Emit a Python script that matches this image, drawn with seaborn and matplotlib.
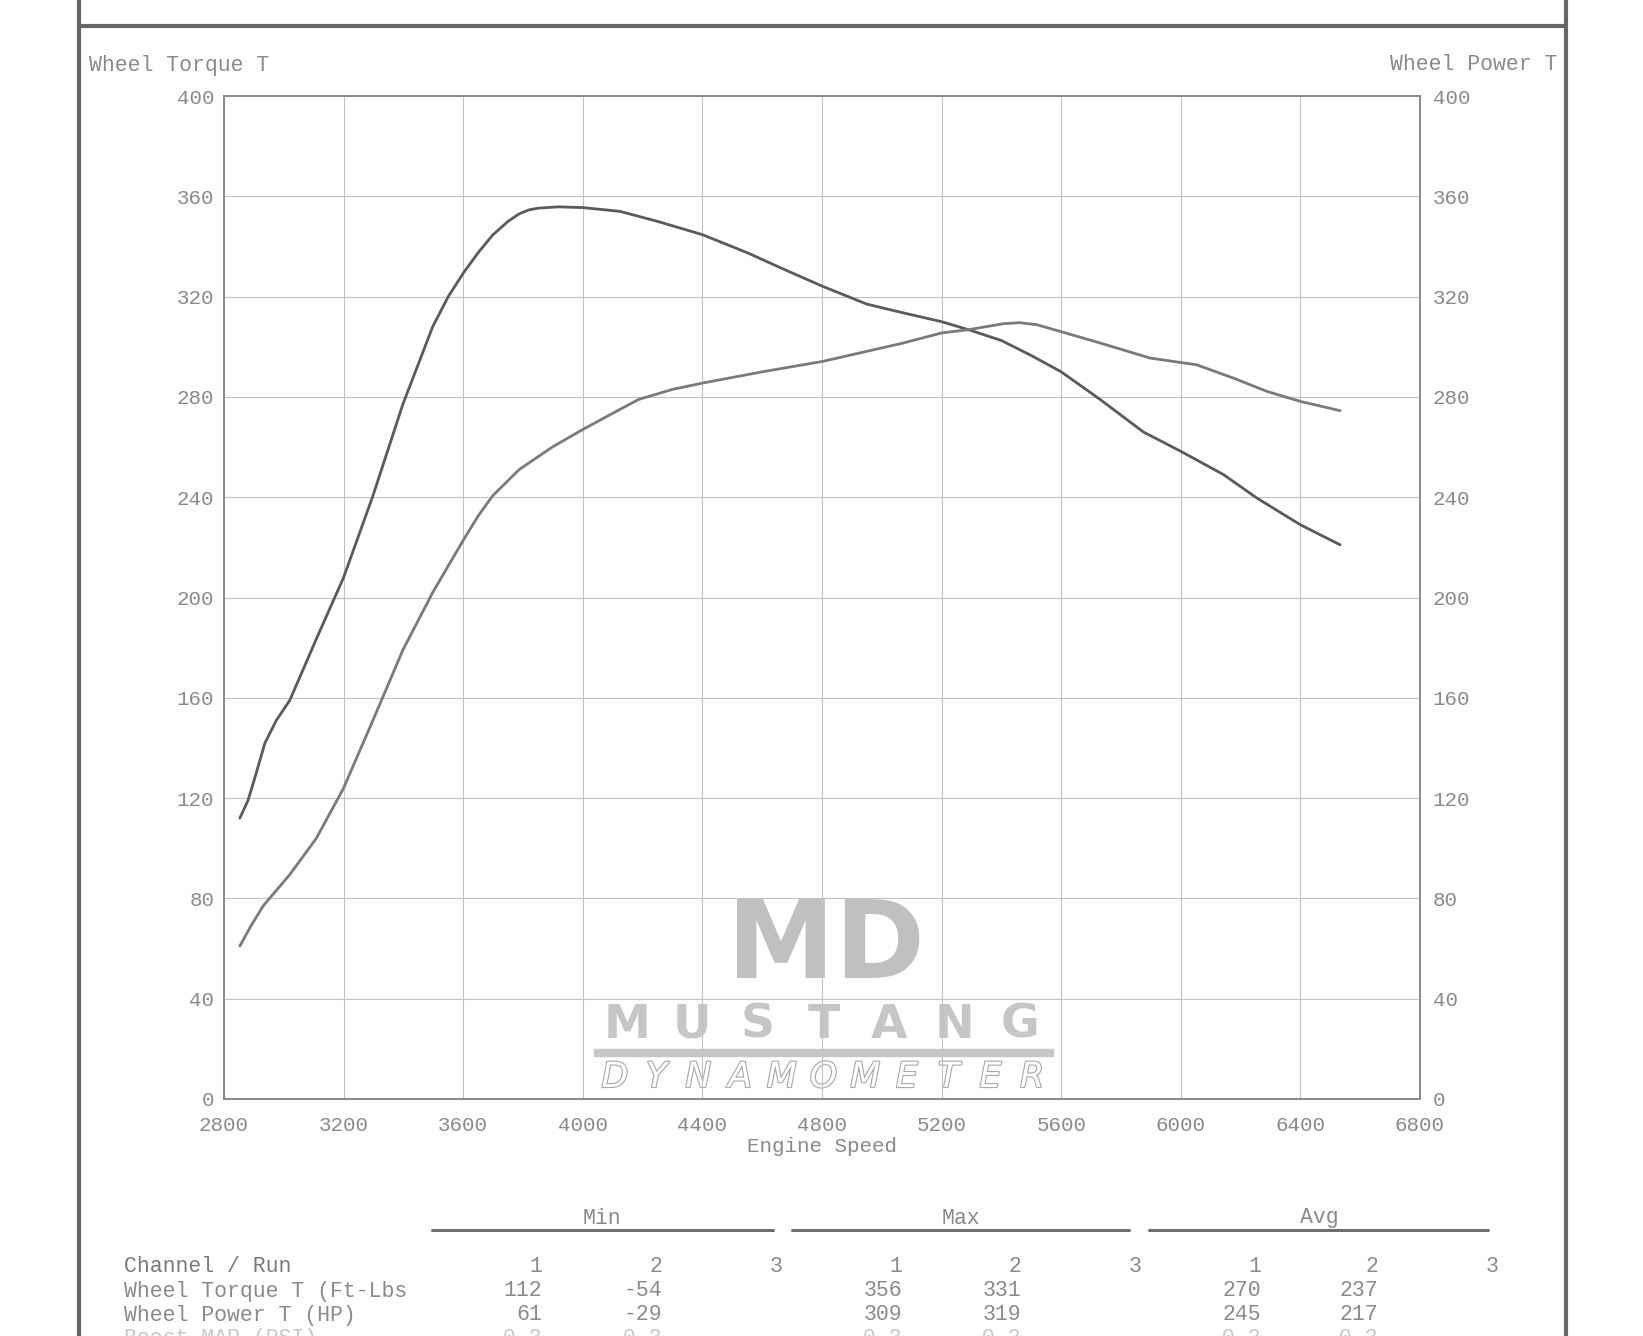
import numpy as np
import pandas as pd
import matplotlib
matplotlib.use("Agg")
import matplotlib.pyplot as plt
import matplotlib.patheffects as pe
from matplotlib.lines import Line2D
from matplotlib.patches import Rectangle
import seaborn as sns

# Dyno run data
torque_rpm = [2853, 2880, 2898, 2937, 2975, 3020, 3109, 3200, 3298, 3398, 3498, 3550,
              3601, 3650, 3698, 3750, 3787, 3820, 3853, 3920, 4000, 4124, 4250, 4400,
              4550, 4680, 4804, 4950, 5072, 5200, 5290, 5400, 5500, 5600, 5730, 5875,
              6000, 6143, 6254, 6400, 6533]
torque_val = [112, 119, 126, 142, 151, 159, 183.5, 208, 240.5, 277, 308, 320,
              329.5, 337.5, 344.5, 350, 353, 354.6, 355.3, 355.8, 355.5, 354, 350, 344.7,
              337.5, 330.5, 324, 317, 313.5, 310, 306.8, 302.5, 296.5, 290, 279, 266,
              258.3, 249, 239.7, 229, 221]

power_rpm = [2853, 2890, 2931, 3020, 3109, 3200, 3298, 3398, 3498, 3601, 3650, 3698,
             3787, 3898, 4000, 4124, 4187, 4300, 4400, 4600, 4804, 5072, 5200, 5290,
             5407, 5460, 5518, 5600, 5730, 5897, 6053, 6176, 6288, 6400, 6533]
power_val = [61, 69, 77, 89.5, 104, 124, 151, 179, 202, 223, 232.5, 240.5,
             251, 260, 267, 275, 279, 283, 285.5, 290, 294.2, 301.5, 305.5, 306.8,
             309.2, 309.6, 308.8, 306, 301.5, 295.5, 292.8, 287.5, 282.2, 278.2, 274.5]

x_ticks = list(range(2800, 6801, 400))
y_ticks = list(range(0, 401, 40))

# Summary table
table_cols = ["Min", "Max", "Avg"]
run_labels = ["1", "2", "3"]
row_labels = ["Wheel Torque T (Ft-Lbs", "Wheel Power T (HP)", "Boost MAP (PSI)"]
row_values = [
    ["112", "-54", "", "356", "331", "", "270", "237", ""],
    ["61", "-29", "", "309", "319", "", "245", "217", ""],
    ["-0.3", "-0.3", "", "-0.3", "-0.3", "", "-0.3", "-0.3", ""],
]

W, H = 1643, 1336
def fx(x):
    return x / W
def fy(y):
    return 1 - y / H

sns.set_style("white")
plt.rcParams["font.family"] = ["Liberation Mono", "DejaVu Sans Mono"]

txt = "#8a8a8a"
fig = plt.figure(figsize=(W / 100, H / 100), dpi=100)
fig.patch.set_facecolor("white")

ax = fig.add_axes([fx(224), fy(1099), fx(1420) - fx(224), fy(96) - fy(1099)])
ax2 = ax.twinx()

df_t = pd.DataFrame({"rpm": torque_rpm, "value": torque_val})
df_p = pd.DataFrame({"rpm": power_rpm, "value": power_val})
sns.lineplot(data=df_t, x="rpm", y="value", ax=ax, color="#5a5a5a", lw=2.0,
             sort=False, estimator=None, zorder=5, solid_joinstyle="round")
sns.lineplot(data=df_p, x="rpm", y="value", ax=ax2, color="#7a7a7a", lw=2.0,
             sort=False, estimator=None, zorder=5, solid_joinstyle="round")

for a in (ax, ax2):
    a.set_xlim(2800, 6800)
    a.set_ylim(0, 400)
    a.set_yticks(y_ticks)
    a.set_xlabel("")
    a.set_ylabel("")
    a.tick_params(length=0, labelsize=15, labelcolor=txt)
    for s in a.spines.values():
        s.set_color("#8c8c8c")
        s.set_linewidth(1.4)

ax.set_xticks(x_ticks)
ax.tick_params(axis="y", pad=7)
ax.tick_params(axis="x", pad=12)
ax2.tick_params(axis="y", pad=9)
ax.set_axisbelow(True)
ax.grid(True, color="#c2c2c2", lw=0.8)
ax.set_xlabel("Engine Speed", fontsize=15, color=txt, labelpad=2)

fig.text(fx(89), fy(65), "Wheel Torque T", fontsize=15.5, color=txt, va="center", ha="left")
fig.text(fx(1557), fy(65), "Wheel Power T", fontsize=15.5, color=txt, va="center", ha="right")

# watermark logo behind the grid
logo = "#c6c6c6"
ax.text(fx(826), fy(1001), "MD", transform=fig.transFigure, fontsize=78, fontweight="bold",
        family="DejaVu Sans", color="#c0c0c0", ha="center", va="bottom", zorder=0.1)
for i, ch in enumerate("MUSTANG"):
    ax.text(fx(594 + (i + 0.5) * 459 / 7), fy(1003), ch, transform=fig.transFigure,
            fontsize=34, fontweight="bold", family="DejaVu Sans", color=logo,
            ha="center", va="top", zorder=0.1)
ax.add_artist(Rectangle((fx(594), fy(1056)), fx(1053) - fx(594), fy(1049) - fy(1056),
                        transform=fig.transFigure, color=logo, zorder=0.1))
for i, ch in enumerate("DYNAMOMETER"):
    ax.text(fx(594 + (i + 0.5) * 459 / 11), fy(1077), ch, transform=fig.transFigure,
            fontsize=25, family="DejaVu Sans", style="italic", color="white",
            ha="center", va="center", zorder=0.1,
            path_effects=[pe.withStroke(linewidth=1.6, foreground="#a8a8a8")])

# page frame
frame = "#666666"
fig.add_artist(Line2D([fx(79), fx(79)], [0, 1], color=frame, lw=3))
fig.add_artist(Line2D([fx(1566), fx(1566)], [0, 1], color=frame, lw=3))
fig.add_artist(Line2D([fx(79), fx(1566)], [fy(26), fy(26)], color=frame, lw=3))

# summary table
group_mid = [602, 961, 1319]
group_span = [(432, 773), (792, 1129), (1149, 1488)]
col_right = [542, 662, 782, 902, 1021, 1141, 1261, 1378, 1498]
for name, mid, (x0, x1) in zip(table_cols, group_mid, group_span):
    fig.text(fx(mid), fy(1218), name, fontsize=15.5, color=txt, ha="center", va="center")
    fig.add_artist(Line2D([fx(x0), fx(x1)], [fy(1230), fy(1230)], color="#6e6e6e", lw=2.2))

fig.text(fx(124), fy(1267), "Channel / Run", fontsize=15.5, color="#7a7a7a", va="center")
for j, xr in enumerate(col_right):
    fig.text(fx(xr), fy(1267), run_labels[j % 3], fontsize=15.5, color=txt, ha="right", va="center")

# last row is cut by the page edge, as on the scanned sheet
row_y = [1291, 1315, 1328]
for label, vals, y in zip(row_labels, row_values, row_y):
    va = "top" if y == 1328 else "center"
    col = "#c8c8c8" if y == 1328 else txt
    fig.text(fx(124), fy(y), label, fontsize=15.5, color=col, va=va)
    for xr, v in zip(col_right, vals):
        if v:
            fig.text(fx(xr), fy(y), v, fontsize=15.5, color=col, ha="right", va=va)

fig.savefig("out.png", dpi=100, facecolor="white")
